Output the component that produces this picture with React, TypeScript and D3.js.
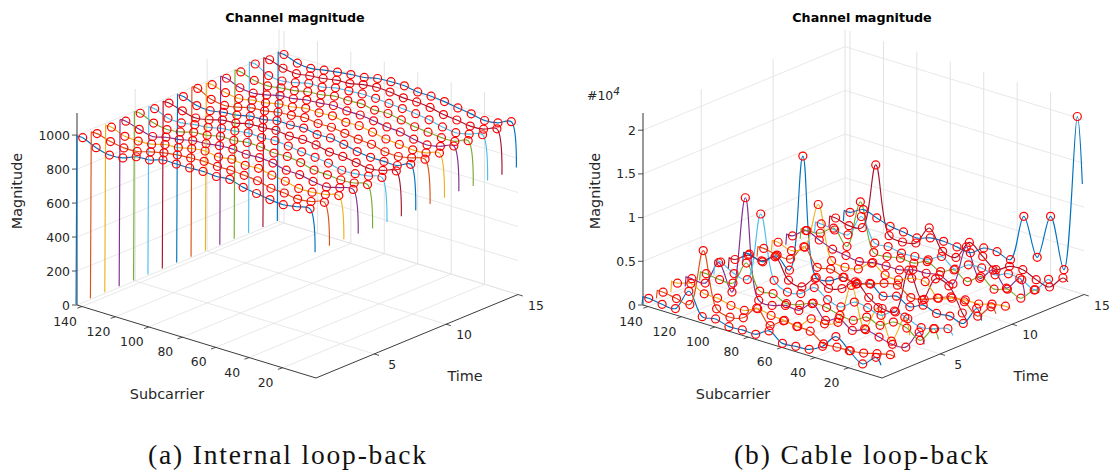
import React from "react";
import * as d3 from "d3";

const timeSymbols = [1, 2, 3, 4, 5, 6, 7, 8, 9, 10, 11, 12, 13, 14, 15];
const pilotSubcarriers = [140, 132, 124, 116, 108, 100, 92, 84, 76, 68, 60, 52, 44, 36, 28, 20, 12, 4];
const lineColors = ["#0072BD", "#D95319", "#EDB120", "#7E2F8E", "#77AC30", "#4DBEEE", "#A2142F"];

const internalMagnitudes = [
  [992, 957, 938, 945, 976, 981, 1005, 1005, 1006, 1010, 1004, 1011, 988, 976, 964, 958, 970, 982],
  [981, 958, 945, 948, 970, 988, 1000, 1006, 1010, 1004, 1006, 1000, 992, 972, 968, 956, 966, 985],
  [984, 954, 950, 956, 978, 984, 1002, 1012, 1000, 1012, 1000, 1006, 990, 978, 960, 962, 972, 990],
  [984, 960, 942, 962, 972, 990, 996, 1008, 1012, 1006, 1010, 1002, 984, 982, 966, 958, 978, 991],
  [996, 962, 948, 958, 980, 986, 1004, 1004, 1016, 1014, 1002, 1006, 994, 974, 970, 964, 970, 985],
  [988, 956, 952, 966, 974, 992, 1000, 1014, 1010, 1016, 1008, 998, 990, 980, 962, 966, 976, 992],
  [986, 964, 946, 960, 982, 988, 1008, 1010, 1018, 1008, 1012, 1004, 986, 984, 972, 960, 974, 995],
  [989, 960, 954, 968, 976, 994, 998, 1016, 1014, 1020, 1006, 1010, 996, 978, 968, 968, 968, 999],
  [1002, 962, 950, 964, 984, 990, 1006, 1012, 1022, 1012, 1014, 1002, 992, 986, 966, 962, 978, 994],
  [989, 966, 956, 970, 978, 996, 1002, 1018, 1016, 1022, 1008, 1012, 998, 982, 974, 966, 972, 995],
  [992, 960, 952, 966, 986, 992, 1008, 1014, 1024, 1016, 1016, 1006, 994, 988, 970, 960, 976, 1002],
  [994, 968, 960, 972, 980, 998, 1004, 1020, 1018, 1024, 1010, 1014, 1000, 984, 976, 968, 970, 998],
  [1006, 962, 954, 968, 988, 990, 1010, 1016, 1022, 1020, 1014, 1008, 1002, 990, 972, 962, 978, 998],
  [996, 970, 962, 974, 982, 996, 1000, 1018, 1026, 1022, 1012, 1012, 1004, 986, 978, 966, 972, 998],
  [992, 965, 958, 972, 984, 994, 1001, 1019, 1024, 1024, 1012, 1011, 1003, 990, 979, 964, 974, 1005],
];
const internalLastSubcarrier = [735, 738, 742, 740, 736, 738, 737, 737, 740, 742, 744, 740, 738, 737, 744];

const cableMagnitudes = [
  [904, 686, 664, 3112, 675, 881, 469, 561, 526, 1384, 423, 549, 675, 1487, 3066, 1922, 870, 2094],
  [927, 664, 446, 7093, 892, 400, 801, 2368, 847, 1853, 1670, 1602, 629, 709, 766, 972, 1373, 1716],
  [1281, 1716, 995, 972, 595, 492, 1155, 858, 755, 538, 1876, 1773, 2402, 7093, 2608, 5480, 2116, 5331],
  [1110, 1075, 3878, 984, 12241, 961, 858, 1327, 1224, 2460, 1007, 1705, 801, 1350, 972, 606, 755, 2940],
  [1007, 789, 869, 3626, 881, 1052, 378, 732, 1384, 1327, 904, 801, 1647, 1167, 2013, 1796, 847, 2654],
  [1659, 801, 583, 8557, 1430, 561, 847, 2002, 1098, 721, 1750, 1579, 1167, 2128, 1716, 1167, 1510, 1979],
  [1270, 2231, 2048, 2974, 766, 469, 1899, 1224, 1682, 2917, 1590, 801, 881, 6120, 3157, 6063, 5720, 3089],
  [1201, 789, 1945, 766, 14289, 869, 950, 1808, 1510, 2059, 1064, 1533, 778, 1441, 961, 1121, 744, 2929],
  [1178, 881, 892, 2768, 881, 1144, 664, 446, 835, 1384, 1647, 686, 950, 1567, 2174, 2082, 904, 2437],
  [1201, 709, 1567, 6921, 961, 675, 950, 2071, 1201, 1098, 1750, 1830, 400, 869, 1144, 1144, 1602, 1830],
  [1247, 2322, 1716, 1133, 869, 641, 995, 1087, 1098, 1567, 1647, 1922, 1361, 6063, 2940, 4347, 2746, 4347],
  [1178, 1338, 2391, 755, 6338, 995, 1007, 1293, 1190, 1830, 1155, 1819, 950, 1991, 1018, 1487, 915, 2334],
  [1258, 1030, 950, 3512, 927, 1007, 721, 801, 892, 1739, 755, 1716, 1830, 1510, 2094, 1876, 1190, 2860],
  [1258, 847, 1087, 8729, 1098, 847, 1201, 3386, 1178, 950, 3135, 2002, 950, 1796, 1888, 1213, 835, 2334],
  [1224, 2002, 1522, 1030, 847, 629, 1098, 1178, 1007, 801, 1819, 1865, 1419, 6841, 2620, 7779, 2139, 20134],
];
const cableLastSubcarrier = [1370, 1600, 3430, 1720, 1600, 1370, 2290, 1720, 1830, 1720, 2520, 2170, 2060, 2060, 12580];

const subcarrierTicks = [20, 40, 60, 80, 100, 120, 140];
const timeTicks = [5, 10, 15];
const internalTicks = [0, 200, 400, 600, 800, 1000];
const internalTickLabels = ["0", "200", "400", "600", "800", "1000"];
const cableTicks = [0, 5000, 10000, 15000, 20000];
const cableTickLabels = ["0", "0.5", "1", "1.5", "2"];

const FONT = "'DejaVu Sans', sans-serif";
const INK = "#262626";
const GRID = "#e2e2e2";

type Pt = [number, number];

function Panel({ dx, rows, lastValues, zMax, zTicks, zLabels, title, caption, exponent, captionX, captionWidth }: any) {
  const front: Pt = [316 + dx, 378];
  const left: Pt = [77 + dx, 305];
  const right: Pt = [518 + dx, 294.5];
  const uScale = d3.scaleLinear().domain([0, 143]).range([0, 1]);
  const vScale = d3.scaleLinear().domain([0.95, 15]).range([0, 1]);
  const zScale = d3.scaleLinear().domain([0, zMax]).range([0, 192]);
  const project = (x: number, t: number, z: number): Pt => {
    const u = uScale(x);
    const v = vScale(t);
    return [
      front[0] + u * (left[0] - front[0]) + v * (right[0] - front[0]),
      front[1] + u * (left[1] - front[1]) + v * (right[1] - front[1]) - zScale(z),
    ];
  };
  const segment = (a: Pt, b: Pt, key: string, stroke: string, w = 1) => (
    <line key={key} x1={a[0]} y1={a[1]} x2={b[0]} y2={b[1]} stroke={stroke} strokeWidth={w} />
  );
  const curve = d3.line<Pt>().curve(d3.curveCatmullRom.alpha(0.5));

  const xMax = 143;
  const tMin = 0.95;
  const tMax = 15;

  const grid: any[] = [];
  subcarrierTicks.forEach((x) => {
    grid.push(segment(project(x, tMin, 0), project(x, tMax, 0), `fx${x}`, GRID, 0.8));
    grid.push(segment(project(x, tMax, 0), project(x, tMax, zMax), `wx${x}`, GRID, 1));
  });
  timeTicks.forEach((t) => {
    grid.push(segment(project(0, t, 0), project(xMax, t, 0), `ft${t}`, GRID, 0.8));
    grid.push(segment(project(xMax, t, 0), project(xMax, t, zMax), `wt${t}`, GRID, 1));
  });
  zTicks.forEach((z: number) => {
    grid.push(segment(project(xMax, tMin, z), project(xMax, tMax, z), `zl${z}`, GRID, 0.8));
    grid.push(segment(project(xMax, tMax, z), project(0, tMax, z), `zr${z}`, GRID, 0.8));
  });

  const lines = rows.map((row: number[], s: number) => {
    const t = timeSymbols[s];
    const bottom = project(144, t, 0);
    const top = project(143.5, t, row[0]);
    const pts: Pt[] = [top];
    row.forEach((z, i) => pts.push(project(pilotSubcarriers[i], t, z)));
    pts.push(project(1, t, lastValues[s]));
    return (
      <path
        key={`l${s}`}
        d={`M${bottom[0]},${bottom[1]}L${top[0]},${top[1]}` + (curve(pts) as string).replace(/^M[^CL]*/, "")}
        fill="none"
        stroke={lineColors[s % 7]}
        strokeWidth={1.15}
      />
    );
  });
  const markers = rows.flatMap((row: number[], s: number) =>
    row.map((z, i) => {
      const [cx, cy] = project(pilotSubcarriers[i], timeSymbols[s], z);
      return <circle key={`m${s}-${i}`} cx={cx} cy={cy} r={4} fill="none" stroke="#ff0000" strokeWidth={1.2} />;
    })
  );

  const xDir: Pt = [-0.945, 0.326];
  const tDir: Pt = [-0.956, -0.292];
  const ticks: any[] = [];
  subcarrierTicks.forEach((x) => {
    const p = project(x, tMin, 0);
    ticks.push(segment(p, [p[0] + xDir[0] * 5, p[1] + xDir[1] * 5], `tx${x}`, INK, 0.8));
  });
  timeTicks.forEach((t) => {
    const p = project(0, t, 0);
    ticks.push(segment(p, [p[0] - tDir[0] * 5, p[1] - tDir[1] * 5], `tt${t}`, INK, 0.8));
  });
  zTicks.forEach((z: number) => {
    const p = project(xMax, tMin, z);
    ticks.push(segment(p, [p[0] - 5, p[1]], `tz${z}`, INK, 0.8));
  });

  const tl = { fontFamily: FONT, fontSize: 12.4, fill: INK };
  return (
    <g>
      {grid}
      {segment(left, front, "axl", INK, 0.9)}
      {segment(front, right, "axr", INK, 0.9)}
      {segment(left, project(xMax, tMin, zMax), "axz", "#555", 1.2)}
      {ticks}
      {lines}
      {markers}
      {zTicks.map((z: number, i: number) => {
        const p = project(xMax, tMin, z);
        return (
          <text key={`zt${z}`} x={p[0] - 7} y={p[1] + 4.5} textAnchor="end" {...tl}>
            {zLabels[i]}
          </text>
        );
      })}
      {subcarrierTicks.map((x) => {
        const p = project(x, tMin, 0);
        return (
          <text key={`xt${x}`} x={p[0] - 17} y={p[1] + 19} textAnchor="middle" {...tl}>
            {x}
          </text>
        );
      })}
      {timeTicks.map((t) => {
        const p = project(0, t, 0);
        return (
          <text key={`ttl${t}`} x={p[0] + 18} y={p[1] + 15} textAnchor="middle" {...tl}>
            {t}
          </text>
        );
      })}
      <text x={295 + dx + (dx ? 1 : 0)} y={22} textAnchor="middle" fontFamily={FONT} fontSize={12.7} fontWeight="bold" fill="#000">
        {title}
      </text>
      <text transform={`translate(${22 + dx + (dx ? 12 : 0)},191) rotate(-90)`} textAnchor="middle" fontFamily={FONT} fontSize={14.4} fill={INK}>
        Magnitude
      </text>
      <text x={166 + dx + 1} y={399} textAnchor="middle" fontFamily={FONT} fontSize={14.4} fill={INK}>
        Subcarrier
      </text>
      <text x={465 + dx} y={381} textAnchor="middle" fontFamily={FONT} fontSize={14.4} fill={INK}>
        Time
      </text>
      {exponent && (
        <text x={587} y={100} fontFamily={FONT} fontSize={12.4} fill={INK}>
          {"#10"}
          <tspan dy={-5} fontSize={10.5} fontStyle="italic">{exponent}</tspan>
        </text>
      )}
      <text
        x={captionX}
        y={464}
        fontFamily="'Liberation Serif', serif"
        fontSize={27.5}
        fill="#111"
        textLength={captionWidth}
        lengthAdjust="spacing"
      >
        {caption}
      </text>
    </g>
  );
}

export default function App() {
  return (
    <svg
      width={1113}
      height={472}
      viewBox="0 0 1113 472"
      style={{ position: "absolute", left: 0, top: 0, background: "#fff" }}
    >
      <Panel
        dx={0}
        rows={internalMagnitudes}
        lastValues={internalLastSubcarrier}
        zMax={1130}
        zTicks={internalTicks}
        zLabels={internalTickLabels}
        title="Channel magnitude"
        caption="(a) Internal loop-back"
        captionX={148}
        captionWidth={278}
      />
      <Panel
        dx={566}
        rows={cableMagnitudes}
        lastValues={cableLastSubcarrier}
        zMax={21970}
        zTicks={cableTicks}
        zLabels={cableTickLabels}
        title="Channel magnitude"
        caption="(b) Cable loop-back"
        captionX={734}
        captionWidth={254}
        exponent="4"
      />
    </svg>
  );
}
